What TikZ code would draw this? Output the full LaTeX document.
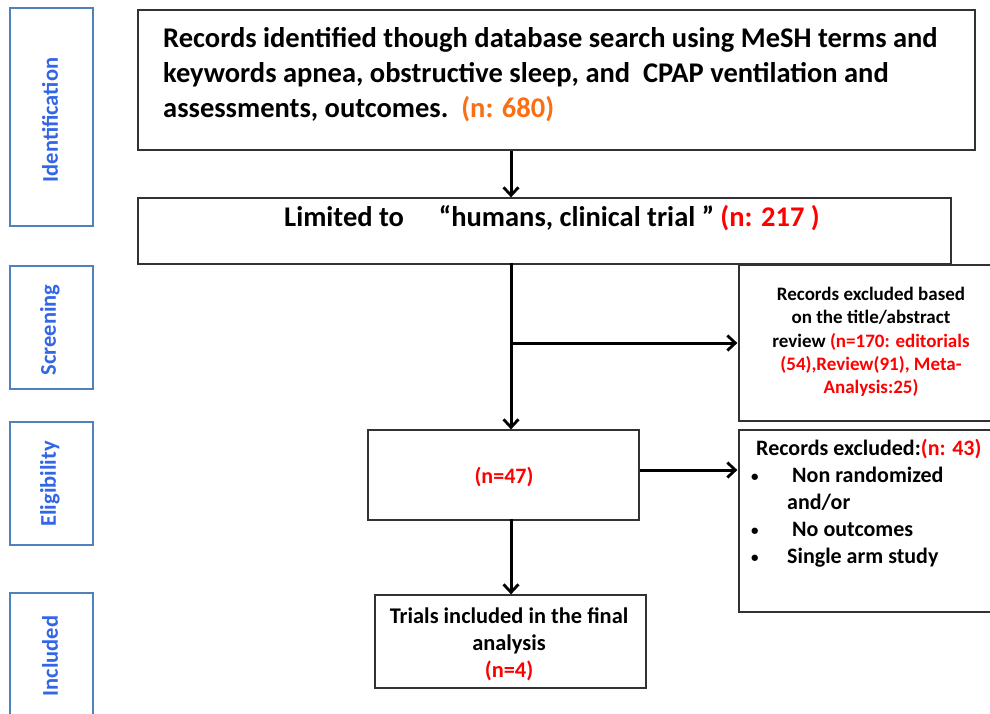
\documentclass[tikz,border=0pt]{standalone}
\usepackage{fontspec}
\setmainfont{Carlito}
\usepackage{xcolor}
\usetikzlibrary{arrows.meta}
\definecolor{stageblue}{RGB}{79,129,189}
\definecolor{stagetext}{RGB}{51,102,230}
\definecolor{numorange}{RGB}{250,110,20}
\definecolor{boxgray}{RGB}{50,50,50}
\newcommand{\nred}[1]{\textcolor{red}{#1}}
\newcommand{\smallbul}{\raisebox{1pt}{\fontsize{15}{15}\selectfont •}}

\begin{document}
\begin{tikzpicture}[x=1pt,y=-1pt]
	\tikzset{stage/.style={draw=stageblue,line width=2.6pt,minimum width=83pt,inner sep=0pt}}
	\tikzset{stagelabel/.style={rotate=90,text=stagetext,font=\fontsize{22.5}{26}\selectfont\bfseries}}
	\tikzset{flowbox/.style={draw=boxgray,line width=1.3pt,inner sep=0pt}}
	\tikzset{flowarrow/.style={line width=3pt,-{Straight Barb[length=8pt,width=15pt,line width=2.8pt]}}}
	\clip (0,0) rectangle (990,713);
	\fill[white] (0,0) rectangle (990,713);
	% stage boxes on the left
	\node[stage,minimum height=218pt] (ident) at (51.5,117) {};
	\node[stage,minimum height=123pt] (screen) at (51.5,327.5) {};
	\node[stage,minimum height=123pt] (elig) at (51.5,483.5) {};
	\node[stage,minimum height=137pt] (incl) at (51.5,661.5) {};
	\node[stagelabel] (identlbl) at (50,120) {Identification};
	\node[stagelabel] (screenlbl) at (50,330) {Screening};
	\node[stagelabel] (eliglbl) at (50,484) {Eligibility};
	\node[stagelabel] (incllbl) at (50,656) {Included};
	% flow boxes
	\node[flowbox,minimum width=837pt,minimum height=140pt] (search) at (556.5,80) {};
	\node[flowbox,minimum width=813pt,minimum height=66pt] (limit) at (544.5,231) {};
	\node[flowbox,minimum width=261pt,minimum height=156pt] (excltitle) at (869.5,343) {};
	\node[flowbox,minimum width=271pt,minimum height=90pt] (full) at (503.5,475) {};
	\node[flowbox,minimum width=261pt,minimum height=182pt] (exclfull) at (869.5,521) {};
	\node[flowbox,minimum width=271pt,minimum height=93pt] (final) at (510.5,641.5) {};
	% texts
	\node[anchor=north west,inner sep=0pt,align=left,font=\fontsize{28.5}{35}\selectfont\bfseries] (searchtxt) at (163,27)
		{Records identified though database search using MeSH terms and\\
		 keywords apnea, obstructive sleep, and\ \ CPAP ventilation and\\
		 assessments, outcomes.\ \ \textcolor{numorange}{(n: 680)}};
	\node[font=\fontsize{28.5}{32}\selectfont\bfseries] (limittxt) at (552,218)
		{Limited to\quad\ “humans, clinical trial ” \nred{(n: 217 )}};
	\node[align=center,inner sep=0pt,font=\fontsize{19}{23.3}\selectfont\bfseries] (excltitletxt) at (871,342)
		{Records excluded based\\ on the title/abstract\\ review \nred{(n=170: editorials}\\
		 \nred{(54),Review(91), Meta-}\\ \nred{Analysis:25)}};
	\node[font=\fontsize{22}{26}\selectfont\bfseries,text=red] (fulltxt) at (504,477) {(n=47)};
	\node[anchor=north west,inner sep=0pt,align=left,font=\fontsize{22}{27}\selectfont\bfseries] (exclfulltxt) at (751,439)
		{\hspace{5pt}Records excluded:\nred{(n: 43)}\\
		 \makebox[41pt][l]{\smallbul}Non randomized\\
		 \hspace{36pt}and/or\\
		 \makebox[41pt][l]{\smallbul}No outcomes\\
		 \makebox[36pt][l]{\smallbul}Single arm study};
	\node[align=center,inner sep=0pt,font=\fontsize{22.4}{27}\selectfont\bfseries] (finaltxt) at (509,644)
		{Trials included in the final\\ analysis\\ \nred{(n=4)}};
	% connectors
	\coordinate (spine) at (511,0);
	\draw[flowarrow] (search.south -| spine) -- (limit.north -| spine);
	\draw[flowarrow] ([yshift=2pt]limit.south -| spine) -- (full.north -| spine);
	\draw[flowarrow] (excltitle.west -| spine) -- ([xshift=-1pt]excltitle.west);
	\draw[flowarrow] ([yshift=5pt]full.east) -- ([xshift=-1pt,yshift=5pt]full.east -| exclfull.west);
	\draw[flowarrow] ([yshift=2pt]full.south -| spine) -- (final.north -| spine);
\end{tikzpicture}
\end{document}
